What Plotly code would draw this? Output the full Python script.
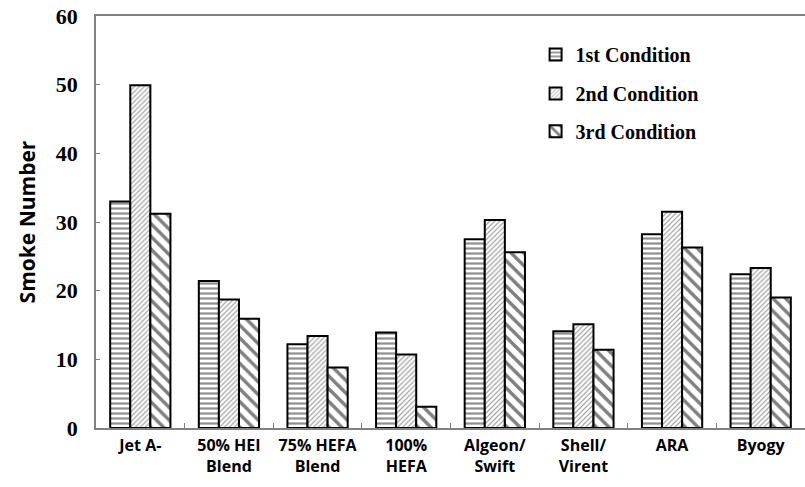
import plotly.graph_objects as go

categories = ["Jet A-", "50% HEI<br>Blend", "75% HEFA<br>Blend", "100%<br>HEFA",
              "Algeon/<br>Swift", "Shell/<br>Virent", "ARA", "Byogy"]
first_cond = [33.0, 21.4, 12.2, 13.9, 27.5, 14.1, 28.2, 22.4]
second_cond = [49.9, 18.7, 13.4, 10.7, 30.3, 15.1, 31.5, 23.3]
third_cond = [31.2, 15.9, 8.8, 3.1, 25.6, 11.4, 26.3, 19.0]
series_names = ["1st Condition", "2nd Condition", "3rd Condition"]
y_ticks = [0, 10, 20, 30, 40, 50, 60]

patterns = [
    dict(shape="-", size=5, solidity=0.45, fgcolor="#222222", bgcolor="white"),
    dict(shape="/", size=3.5, solidity=0.35, fgcolor="#444444", bgcolor="white"),
    dict(shape="\\", size=9, solidity=0.38, fgcolor="black", bgcolor="white"),
]
legend_ids = ["legend", "legend2", "legend3"]

fig = go.Figure()
for name, vals, pat, lg in zip(series_names, [first_cond, second_cond, third_cond], patterns, legend_ids):
    fig.add_trace(go.Bar(
        x=categories, y=vals, name=name,
        marker=dict(color="white", line=dict(color="black", width=2), pattern=pat),
        legend=lg,
    ))

H = 487
top, bottom = 15.5, 428
ph = bottom - top

def ly(py):
    return (bottom - py) / ph

legend_font = dict(family="Liberation Serif, Times New Roman, serif", size=20, color="black", weight="bold")
common_leg = dict(font=legend_font, bgcolor="rgba(0,0,0,0)", xanchor="left", yanchor="middle",
                  x=0.62, itemwidth=30)

fig.update_layout(
    width=805, height=H,
    margin=dict(l=95.5, r=0, t=top, b=H - bottom, autoexpand=False),
    plot_bgcolor="white", paper_bgcolor="white",
    barmode="group", bargap=0.32, bargroupgap=0,
    showlegend=True,
    legend=dict(**common_leg, y=ly(54)),
    legend2=dict(**common_leg, y=ly(93)),
    legend3=dict(**common_leg, y=ly(131)),
    xaxis=dict(
        type="category", showline=True, linecolor="#808080", linewidth=1.5, mirror=True,
        ticks="inside", tickson="boundaries", ticklen=5, tickcolor="#808080", tickangle=0,
        tickfont=dict(family="Open Sans, Noto Sans, sans-serif", size=16, color="black", weight="bold"),
        showgrid=False, range=[-0.5, 7.5], ticklabelstandoff=2,
    ),
    yaxis=dict(
        range=[0, 60], tickvals=y_ticks, showline=True, linecolor="#808080", linewidth=1.5,
        ticks="inside", ticklen=4, tickcolor="#808080", showgrid=False, zeroline=False,
        tickfont=dict(family="Liberation Serif, Times New Roman, serif", size=22, color="black", weight="bold"),
        ticklabelstandoff=12,
        title=dict(text="Smoke Number", standoff=14,
                   font=dict(family="Open Sans, Noto Sans, sans-serif", size=21, color="black", weight="bold")),
    ),
)

fig.write_html("out.html", config={"displayModeBar": False},
               post_script="document.body.style.margin='0';document.body.style.padding='0';")
